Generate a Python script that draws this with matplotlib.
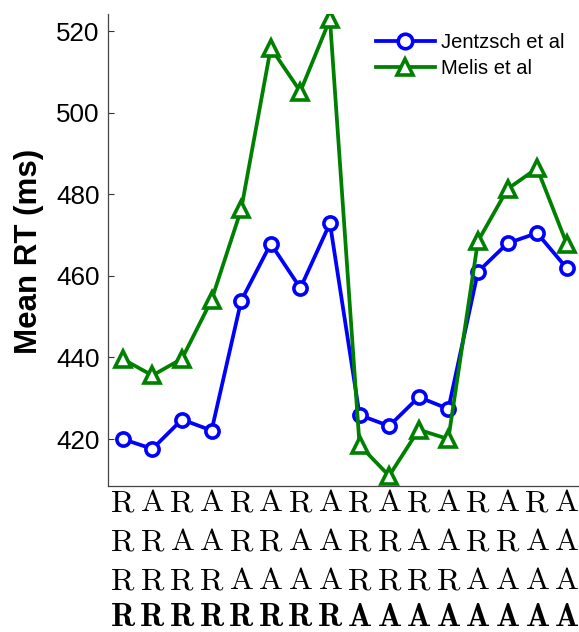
import matplotlib
matplotlib.use("Agg")
import matplotlib.pyplot as plt
import matplotlib.transforms as mtransforms

plt.rcParams['font.family'] = ['Liberation Sans', 'DejaVu Sans']
plt.rcParams['mathtext.fontset'] = 'cm'

# Data
conditions = list(range(1, 17))
jentzsch = [420.0, 417.6, 424.8, 422.1, 453.9, 467.9, 457.0, 472.9,
            425.9, 423.2, 430.3, 427.4, 461.0, 468.0, 470.5, 461.9]
melis = [439.6, 435.6, 439.7, 454.1, 476.3, 515.9, 505.2, 522.9,
         418.5, 411.0, 422.3, 420.0, 468.5, 481.3, 486.4, 467.9]
row1 = list("RARARARARARARARA")
row2 = list("RRAARRAARRAARRAA")
row3 = list("RRRRAAAARRRRAAAA")
row4 = list("RRRRRRRRAAAAAAAA")
yticks = [420, 440, 460, 480, 500, 520]

W, H = 579, 632
fig = plt.figure(figsize=(W / 100, H / 100), dpi=100)
ax = fig.add_axes([108 / W, (H - 486) / H, (581.5 - 108) / W, (486 - 14) / H])

ax.plot(conditions, jentzsch, color='#0000ff', lw=2.7, marker='o', ms=9.5,
        mew=2.6, mfc='white', mec='#0000ff', label='Jentzsch et al')
ax.plot(conditions, melis, color='#008000', lw=2.7, marker='^', ms=11,
        mew=2.6, mfc='white', mec='#008000', label='Melis et al')

ax.set_xlim(0.5, 16.5)
ax.set_ylim(408.5, 524.2)
ax.set_yticks(yticks)
ax.set_yticklabels([str(v) for v in yticks])
ax.set_xticks([])
ax.tick_params(axis='y', direction='in', length=4, width=0.8, colors='#333333',
               labelcolor='black', labelsize=18.7, pad=6)
for s in ['top', 'right']:
    ax.spines[s].set_visible(False)
for s in ['left', 'bottom']:
    ax.spines[s].set_color('#444444')
    ax.spines[s].set_linewidth(0.9)

fig.text(29 / W, 1 - 251 / H, 'Mean RT (ms)', rotation=90, ha='center',
         va='center', fontsize=22.5, fontweight='bold')

trans = mtransforms.blended_transform_factory(ax.transData, fig.transFigure)
rows = [(row1, 503, False), (row2, 542.5, False), (row3, 581, False), (row4, 618, True)]
for letters, yc, bold in rows:
    for x, ch in zip(conditions, letters):
        s = r'$\mathbf{%s}$' % ch if bold else r'$\mathrm{%s}$' % ch
        ax.text(x, 1 - yc / H, s, transform=trans, ha='center', va='center',
                fontsize=23, clip_on=False)

leg = ax.legend(loc='upper left', bbox_to_anchor=(362 / W, 1 - 19 / H),
                bbox_transform=fig.transFigure, frameon=False, fontsize=14.5,
                handlelength=2.9, handletextpad=0.3, labelspacing=0.35,
                borderpad=0.2, markerscale=1.1)

fig.savefig('out.png', dpi=100)
